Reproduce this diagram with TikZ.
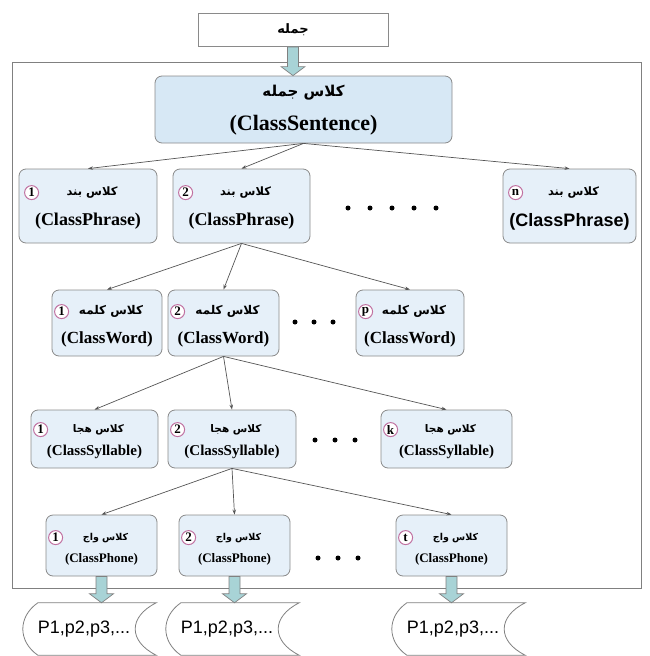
\documentclass[tikz,border=0pt]{standalone}
\usepackage{fontspec}
\usetikzlibrary{calc,arrows.meta}
\TeXXeTstate=1
\newfontfamily\arabicfont[Script=Arabic]{DejaVu Sans}
\newfontfamily\latserif{Liberation Serif}
\newfontfamily\latsans{Liberation Sans}

\definecolor{boxfill}{HTML}{E6F0F9}
\definecolor{sentfill}{HTML}{D7E8F5}
\definecolor{boxline}{HTML}{8A8A8A}
\definecolor{markline}{HTML}{C070A0}
\definecolor{arrowfill}{HTML}{A8D3D6}
\definecolor{connline}{HTML}{555555}

% values used by \classbox, set per row
\newcommand\markdx{10}
\newcommand\lineA{24}
\newcommand\lineB{53}

% rounded class box with a circled index, a Persian title and a Latin name
% #1 name, #2 left, #3 top, #4 right, #5 bottom, #6 index, #7 Persian, #8 Latin
\newcommand\classbox[8]{%
  \node[cbox, minimum width={#4-#2}, minimum height={#5-#3}] (#1) at ({(#2+#4)/2},{(#3+#5)/2}) {};
  \node[mk] (#1-m) at ($(#1.north west)+(\markdx+7,\lineA)$) {#6};
  \node[artext] (#1-a) at ($(#1.north)+(4,\lineA)$) {#7};
  \node[lattext] (#1-l) at ($(#1.north)+(0,\lineB)$) {#8};
}

% block arrow pointing straight down from #1 to the level of #2
\newcommand\blockarrow[3]{%
  \coordinate (#3) at (#1 |- #2);
  \filldraw[barrow] ($(#1)+(-5.5,0)$) -- ($(#3)+(-5.5,-9)$) -- ($(#3)+(-12,-9)$) -- (#3)
     -- ($(#3)+(12,-9)$) -- ($(#3)+(5.5,-9)$) -- ($(#1)+(5.5,0)$) -- cycle;
}

% stored-data symbol: #1 name, #2 left, #3 top, #4 right, #5 bottom, #6 text x
\newcommand\datashape[6]{%
  \node[inner sep=0, minimum width={#4-#2}, minimum height={#5-#3}] (#1) at ({(#2+#4)/2},{(#3+#5)/2}) {};
  \draw[dline] ($(#1.north west)+(15,0)$) -- (#1.north east)
     .. controls ($(#1.north east)+(-28,14)$) and ($(#1.south east)+(-28,-14)$) .. (#1.south east)
     -- ($(#1.south west)+(15,0)$)
     .. controls ($(#1.south west)+(-5,-14)$) and ($(#1.north west)+(-5,14)$) .. ($(#1.north west)+(15,0)$);
  \node[datatext] (#1-t) at (#6,{(#3+#5)/2}) {P1,p2,p3,...};
}

\tikzset{
  cbox/.style={draw=boxline, fill=boxfill, rounded corners=7pt, line width=0.8pt, inner sep=0pt},
  mk/.style={circle, draw=markline, fill=white, line width=1pt, inner sep=0pt, minimum size=14pt,
    font=\latserif\bfseries\fontsize{13}{13}\selectfont},
  artext/.style={inner sep=0pt, font=\arabicfont\bfseries\fontsize{11}{12}\selectfont},
  lattext/.style={inner sep=0pt, font=\latserif\bfseries\fontsize{17}{18}\selectfont},
  conn/.style={draw=connline, line width=0.7pt, -{Stealth[length=5pt,width=3.5pt]}},
  barrow/.style={draw=gray, fill=arrowfill, line width=0.7pt},
  dline/.style={draw=gray, line width=0.8pt},
  datatext/.style={inner sep=0pt, font=\latsans\fontsize{18}{18}\selectfont},
  bigdot/.style={circle, fill=black, inner sep=0pt, minimum size=5pt},
}

\begin{document}
\begin{tikzpicture}[x=1pt,y=-1pt]
\useasboundingbox (0,0) rectangle (650,656);

% enclosing frame
\node[draw=gray, line width=1pt, inner sep=0, minimum width=629, minimum height=526] (frame) at (326.5,325) {};

% input sentence
\node[draw=boxline, fill=white, line width=0.8pt, inner sep=0, minimum width=190, minimum height=33,
      font=\arabicfont\bfseries\fontsize{13}{13}\selectfont] (jomle) at (293,30) {\beginR جمله\endR};

% sentence class
\node[cbox, fill=sentfill, minimum width=297, minimum height=67] (sent) at (303.5,109.5) {};
\node[artext, font=\arabicfont\bfseries\fontsize{15}{16}\selectfont] (sent-a) at ($(sent.north)+(0,17)$) {\beginR کلاس جمله\endR};
\node[lattext, font=\latserif\bfseries\fontsize{22}{22}\selectfont] (sent-l) at ($(sent.north)+(0,50)$) {(ClassSentence)};

\blockarrow{jomle.south}{sent.north}{jomle-in}

% phrase row
\renewcommand\markdx{6}\renewcommand\lineA{24}\renewcommand\lineB{53}
\tikzset{artext/.append style={font=\arabicfont\bfseries\fontsize{11.5}{12}\selectfont},
         lattext/.append style={font=\latserif\bfseries\fontsize{18}{18}\selectfont}}
\classbox{p1}{19}{169}{157}{243}{1}{\beginR کلاس بند\endR}{(ClassPhrase)}
\classbox{p2}{173}{169}{310}{243}{2}{\beginR کلاس بند\endR}{(ClassPhrase)}
\classbox{pn}{503}{169}{636}{243}{n}{\beginR کلاس بند\endR}{\latsans(ClassPhrase)}
\foreach \i/\x in {1/348,2/370,3/392,4/414,5/436} \node[bigdot] (pd\i) at (\x,208) {};

% word row
\renewcommand\markdx{3}\renewcommand\lineA{22}\renewcommand\lineB{50}
\tikzset{artext/.append style={font=\arabicfont\bfseries\fontsize{12}{12}\selectfont},
         lattext/.append style={font=\latserif\bfseries\fontsize{17}{17}\selectfont}}
\classbox{w1}{52}{290}{162}{356}{1}{\beginR کلاس کلمه\endR}{(ClassWord)}
\classbox{w2}{168}{290}{279}{356}{2}{\beginR کلاس کلمه\endR}{(ClassWord)}
\classbox{wp}{356}{290}{464}{356}{p}{\beginR کلاس کلمه\endR}{(ClassWord)}
\foreach \i/\x in {1/295,2/314,3/333} \node[bigdot] (wd\i) at (\x,322) {};

% syllable row
\renewcommand\markdx{3}\renewcommand\lineA{20}\renewcommand\lineB{42}
\tikzset{artext/.append style={font=\arabicfont\bfseries\fontsize{10.5}{11}\selectfont},
         lattext/.append style={font=\latserif\bfseries\fontsize{15}{15}\selectfont}}
\classbox{s1}{31}{410}{158}{468}{1}{\beginR کلاس هجا\endR}{(ClassSyllable)}
\classbox{s2}{168}{410}{296}{468}{2}{\beginR کلاس هجا\endR}{(ClassSyllable)}
\classbox{sk}{381}{410}{512}{468}{k}{\beginR کلاس هجا\endR}{(ClassSyllable)}
\foreach \i/\x in {1/315,2/335,3/355} \node[bigdot] (sd\i) at (\x,440) {};

% phone row
\renewcommand\markdx{3}\renewcommand\lineA{23}\renewcommand\lineB{45}
\tikzset{artext/.append style={font=\arabicfont\bfseries\fontsize{9.5}{10}\selectfont},
         lattext/.append style={font=\latserif\bfseries\fontsize{13}{13}\selectfont}}
\classbox{f1}{46}{515}{157}{576}{1}{\beginR کلاس واج\endR}{(ClassPhone)}
\classbox{f2}{179}{515}{290}{576}{2}{\beginR کلاس واج\endR}{(ClassPhone)}
\classbox{ft}{396}{515}{507}{576}{t}{\beginR کلاس واج\endR}{(ClassPhone)}
\foreach \i/\x in {1/318,2/338,3/358} \node[bigdot] (fd\i) at (\x,558) {};

% connectors
\foreach \c in {p1,p2,pn} \draw[conn] (sent.south) -- (\c.north);
\foreach \c in {w1,w2,wp} \draw[conn] (p2.south) -- (\c.north);
\foreach \c in {s1,s2,sk} \draw[conn] (w2.south) -- (\c.north);
\foreach \c in {f1,f2,ft} \draw[conn] (s2.south) -- (\c.north);

% phone outputs
\datashape{d1}{23}{603}{156}{655}{84}
\datashape{d2}{166}{603}{299}{655}{227}
\datashape{d3}{392}{603}{525}{655}{453}
\blockarrow{f1.south}{d1.north}{f1-out}
\blockarrow{f2.south}{d2.north}{f2-out}
\blockarrow{ft.south}{d3.north}{ft-out}
\end{tikzpicture}
\end{document}
